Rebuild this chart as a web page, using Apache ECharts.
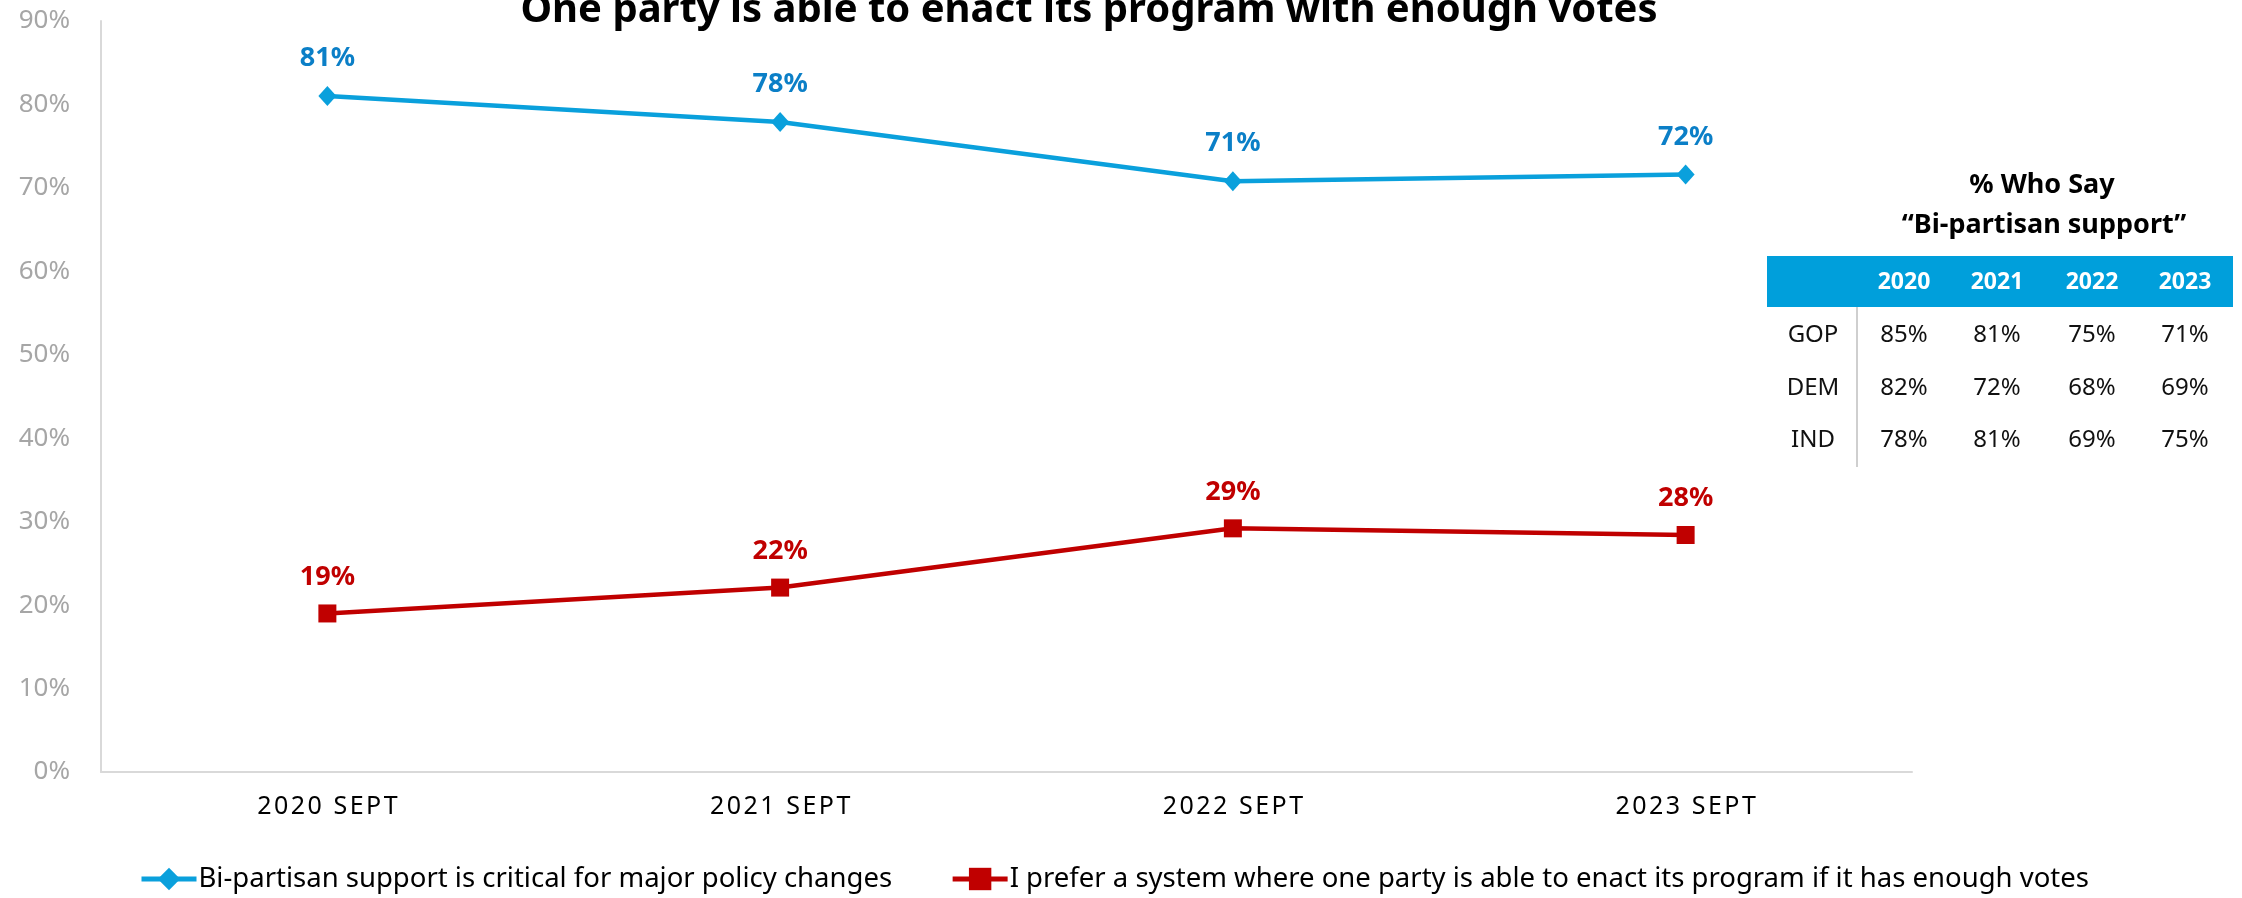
<!DOCTYPE html>
<html>
<head>
<meta charset="utf-8">
<script src="https://cdn.jsdelivr.net/npm/echarts@6/dist/echarts.min.js"></script>
<style>
  html, body { margin: 0; padding: 0; background: #fff; }
  #chart-container { width: 2242px; height: 898px; }
</style>
</head>
<body>
<div id="chart-container"></div>
<script>
// chart values
var years = ['2020 SEPT', '2021 SEPT', '2022 SEPT', '2023 SEPT'];
var bipartisan = [81.0, 77.9, 70.8, 71.6];
var oneParty = [19.0, 22.1, 29.2, 28.4];
var seriesNames = [
    'Bi-partisan support is critical for major policy changes',
    'I prefer a system where one party is able to enact its program if it has enough votes'
];

// side table: % who say "Bi-partisan support"
var tableYears = ['2020', '2021', '2022', '2023'];
var tableRows = ['GOP', 'DEM', 'IND'];
var tableValues = [
    ['85%', '81%', '75%', '71%'],
    ['82%', '72%', '68%', '69%'],
    ['78%', '81%', '69%', '75%']
];

var BLUE = '#0AA0DC';
var BLUE_TXT = '#0B7FC7';
var RED = '#C00000';
var FONT = 'Noto Sans';

var chartDom = document.getElementById('chart-container');
var myChart = echarts.init(chartDom);

function spaced(s) {
    return s.split('').join('\u200A');
}

// table graphics
var tbl = [];
var colX = [1904, 1997, 2092, 2185];
var rowY = [335, 388, 440];
tbl.push({
    type: 'text', x: 2042, y: 185,
    style: { text: '% Who Say', font: 'bold 27px ' + FONT, fill: '#000', align: 'center', verticalAlign: 'middle' }
});
tbl.push({
    type: 'text', x: 2044, y: 225,
    style: { text: '\u201CBi-partisan support\u201D', font: 'bold 27px ' + FONT, fill: '#000', align: 'center', verticalAlign: 'middle' }
});
tbl.push({
    type: 'rect', shape: { x: 1767, y: 256, width: 466, height: 51 },
    style: { fill: '#009FDB' }
});
tbl.push({
    type: 'line', shape: { x1: 1857, y1: 307, x2: 1857, y2: 467 },
    style: { stroke: '#BFBFBF', lineWidth: 1.5 }
});
for (var c = 0; c < tableYears.length; c++) {
    tbl.push({
        type: 'text', x: colX[c], y: 282,
        style: { text: tableYears[c], font: 'bold 23px ' + FONT, fill: '#fff', align: 'center', verticalAlign: 'middle' }
    });
}
for (var r = 0; r < tableRows.length; r++) {
    tbl.push({
        type: 'text', x: 1813, y: rowY[r],
        style: { text: tableRows[r], font: '24px ' + FONT, fill: '#111', align: 'center', verticalAlign: 'middle' }
    });
    for (var c2 = 0; c2 < tableYears.length; c2++) {
        tbl.push({
            type: 'text', x: colX[c2], y: rowY[r],
            style: { text: tableValues[r][c2], font: '24px ' + FONT, fill: '#111', align: 'center', verticalAlign: 'middle' }
        });
    }
}

var option = {
    animation: false,
    title: {
        text: 'One party is able to enact its program with enough votes',
        left: 1084,
        textAlign: 'center',
        top: -14,
        textStyle: {
            fontFamily: FONT,
            fontWeight: 'bold',
            fontSize: 40,
            color: '#000'
        }
    },
    grid: {
        left: 101,
        right: 330,
        top: 21,
        bottom: 126,
        outerBoundsMode: 'none'
    },
    legend: {
        left: 134,
        top: 860,
        itemWidth: 55,
        itemHeight: 28,
        itemGap: 58,
        lineStyle: { width: 5 },
        textStyle: { fontFamily: FONT, fontSize: 27.5, color: '#000', padding: [0, 0, 0, -3] },
        data: seriesNames
    },
    xAxis: {
        type: 'category',
        data: years,
        axisLine: { lineStyle: { color: '#D9D9D9', width: 2 } },
        axisTick: { show: false },
        axisLabel: {
            margin: 22,
            fontFamily: FONT,
            fontSize: 25,
            color: '#000',
            formatter: spaced
        }
    },
    yAxis: {
        type: 'value',
        min: 0,
        max: 90,
        interval: 10,
        axisLine: { show: true, lineStyle: { color: '#D9D9D9', width: 2 } },
        axisTick: { show: false },
        splitLine: { show: false },
        axisLabel: {
            margin: 31,
            fontFamily: FONT,
            fontSize: 26,
            color: '#A6A6A6',
            formatter: '{value}%'
        }
    },
    series: [
        {
            name: seriesNames[0],
            type: 'line',
            data: bipartisan,
            symbol: 'diamond',
            symbolSize: [18, 20],
            itemStyle: { color: BLUE },
            lineStyle: { color: BLUE, width: 4.5 },
            label: {
                show: true,
                position: 'top',
                distance: 14,
                fontFamily: FONT,
                fontWeight: 'bold',
                fontSize: 27,
                color: BLUE_TXT,
                formatter: function (p) { return Math.round(p.value) + '%'; }
            }
        },
        {
            name: seriesNames[1],
            type: 'line',
            data: oneParty,
            symbol: 'rect',
            symbolSize: 18,
            itemStyle: { color: RED },
            lineStyle: { color: RED, width: 4.5 },
            label: {
                show: true,
                position: 'top',
                distance: 14,
                fontFamily: FONT,
                fontWeight: 'bold',
                fontSize: 27,
                color: RED,
                formatter: function (p) { return Math.round(p.value) + '%'; }
            }
        }
    ],
    graphic: tbl
};

myChart.setOption(option);
</script>
</body>
</html>
